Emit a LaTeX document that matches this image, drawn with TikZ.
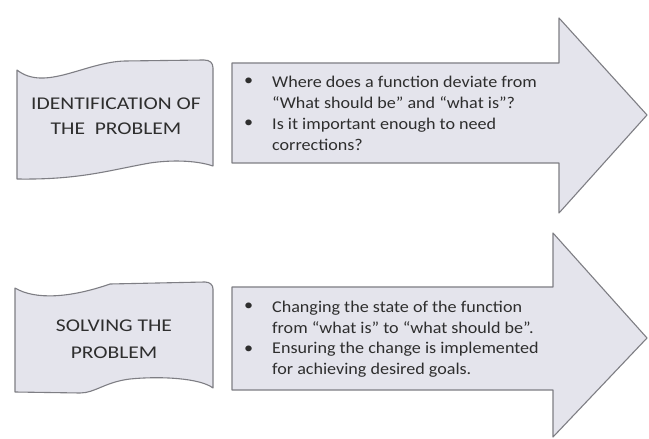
\documentclass[tikz,border=0pt]{standalone}
\usepackage{fontspec}
\setmainfont{Carlito}
\newfontfamily\flagfont{Carlito}[FakeStretch=1.2]
\newfontfamily\bulfont{Carlito}[FakeStretch=1.1]
\begin{document}
\begin{tikzpicture}[x=1bp,y=-1bp,
  shapefill/.style={fill=shapebg, draw=edgegray, line width=1.1bp, line join=round},
  flagtext/.style={font=\flagfont\fontsize{18}{25}\selectfont, text=txtgray, align=center, inner sep=0},
  bultext/.style={font=\bulfont\fontsize{16.5}{21}\selectfont, text=txtgray, align=left, anchor=west, inner sep=0},
  bulmark/.style={font=\bulfont\fontsize{16.5}{21}\selectfont, text=txtgray, anchor=west, inner sep=0}]
\definecolor{shapebg}{HTML}{E4E4EC}
\definecolor{edgegray}{HTML}{7E7E84}
\definecolor{txtgray}{HTML}{2E2E2E}
\useasboundingbox[fill=white] (0,0) rectangle (649,439);
% top arrow
\path[shapefill] (232,63) -- (559,63) -- (559,18) -- (647,115) -- (559,213) -- (559,163) -- (232,163) -- cycle;
% bottom arrow
\path[shapefill] (232,287) -- (553,287) -- (553,233) -- (647,338) -- (553,437) -- (553,390) -- (232,390) -- cycle;
% top flag
\path[shapefill] (17,70) .. controls (45,92) and (85,62) .. (125,61)
  -- (204,60) .. controls (210,60) and (213,63) .. (213,68)
  -- (213,166) .. controls (195,160) and (170,160) .. (150,163)
  .. controls (110,170) and (80,180) .. (17,179) -- cycle;
% bottom flag
\path[shapefill] (15,288) .. controls (35,300) and (70,298) .. (110,284)
  -- (205,282) .. controls (210,282) and (213,285) .. (213,289)
  -- (213,388) .. controls (200,378) and (160,376) .. (130,379)
  .. controls (105,382) and (95,393) .. (80,393) -- (15,392) -- cycle;
% flag texts
\node[flagtext] (t1) at (116,116) {IDENTIFICATION OF\\THE\ \ PROBLEM};
\node[flagtext, font=\flagfont\fontsize{18}{27}\selectfont] (t2) at (114,339) {SOLVING THE\\PROBLEM};
% top bullets
\node[bulmark] (b1) at (244,82) {\textbullet};
\node[bultext] (i1) at (272,92) {Where does a function deviate from\\“What should be” and “what is”?};
\node[bulmark] (b2) at (244,124) {\textbullet};
\node[bultext] (i2) at (272,134) {Is it important enough to need\\corrections?};
% bottom bullets
\node[bulmark] (b3) at (244,307) {\textbullet};
\node[bultext] (i3) at (272,317) {Changing the state of the function\\from “what is” to “what should be”.};
\node[bulmark] (b4) at (244,350) {\textbullet};
\node[bultext] (i4) at (272,360) {Ensuring the change is implemented\\for achieving desired goals.};
\end{tikzpicture}
\end{document}
